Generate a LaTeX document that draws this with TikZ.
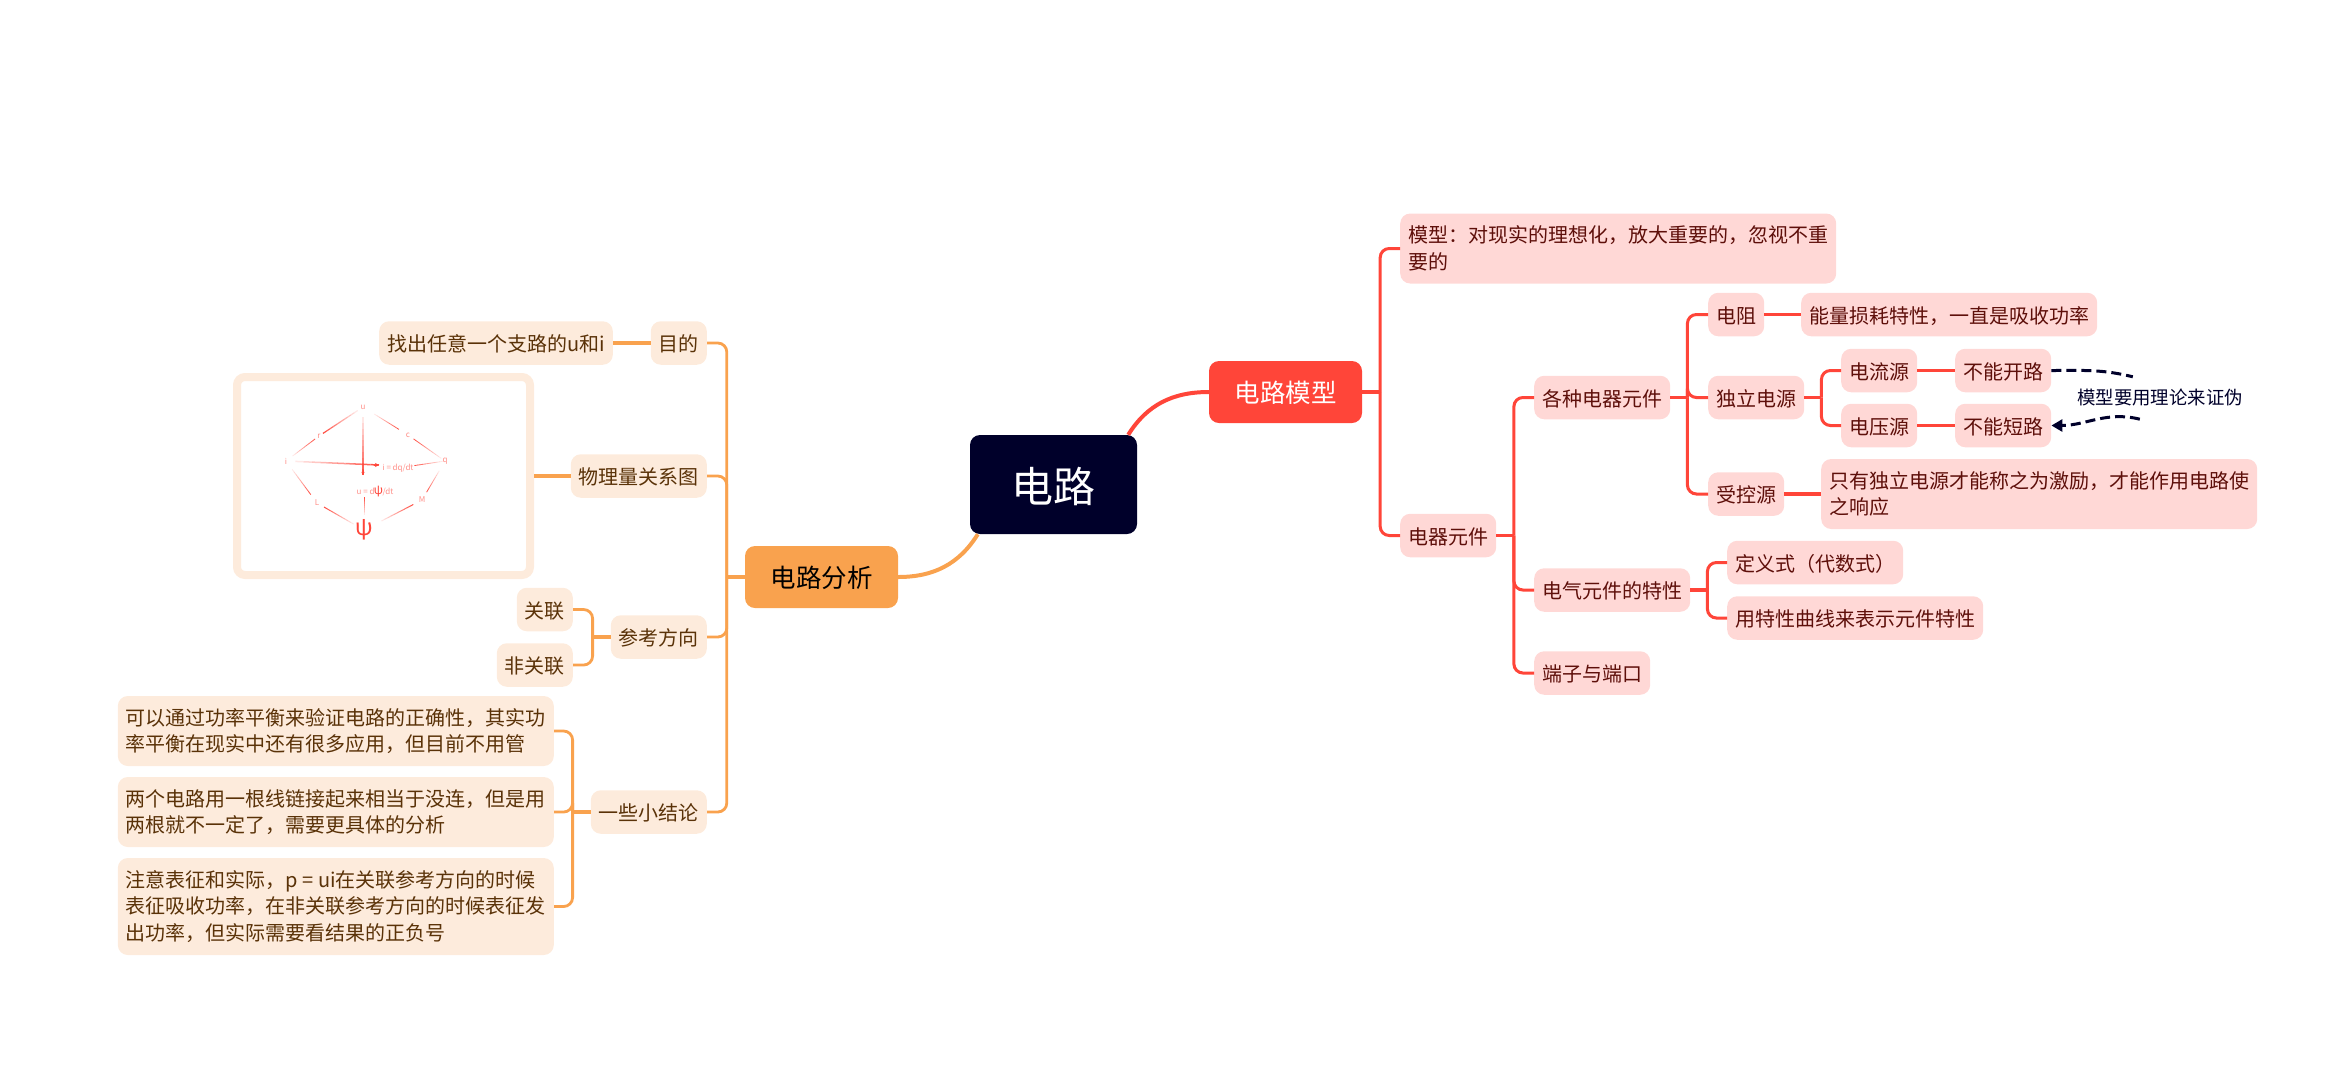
\documentclass[tikz,border=0pt]{standalone}
\usepackage{fontspec}
\usepackage{xcolor}
\setmainfont{Noto Sans CJK SC}
\usetikzlibrary{arrows.meta,calc}
\definecolor{rootink}{HTML}{00002A}
\definecolor{accentred}{HTML}{FF4539}
\definecolor{accentorange}{HTML}{F9A24E}
\definecolor{redbg}{HTML}{FFD8D6}
\definecolor{orangebg}{HTML}{FDEBDC}
\definecolor{redink}{HTML}{5E0F0A}
\definecolor{orangeink}{HTML}{5A3208}
\tikzset{
  rootcard/.style={fill=rootink,text=white,rounded corners=10pt,minimum width=167pt,
                   minimum height=99pt,text height=37pt,text depth=2pt,
                   font=\fontsize{42}{50}\selectfont},
  redmain/.style={fill=accentred,text=white,rounded corners=10pt,minimum width=153pt,
                  minimum height=62pt,text height=23pt,text depth=1.6pt,
                  font=\fontsize{25.5}{30}\selectfont},
  orangemain/.style={fill=accentorange,text=black,rounded corners=10pt,minimum width=153pt,
                     minimum height=62pt,text height=23pt,text depth=1.6pt,
                     font=\fontsize{25.5}{30}\selectfont},
  basecard/.style={rounded corners=10pt,inner xsep=8pt,inner ysep=0pt,
                   font=\fontsize{20}{26.7}\selectfont},
  redcard/.style={basecard,fill=redbg,text=redink,minimum height=43.5pt,
                  text height=18.5pt,text depth=1.5pt},
  orangecard/.style={basecard,fill=orangebg,text=orangeink,minimum height=43.5pt,
                     text height=18.5pt,text depth=1.5pt},
  rednote/.style={basecard,fill=redbg,text=redink,align=left,
                  execute at begin node={\rule{0pt}{22pt}}},
  orangenote/.style={basecard,fill=orangebg,text=orangeink,align=left,
                     execute at begin node={\rule{0pt}{22pt}}},
  redarr/.style={line width=3pt,draw=accentred,rounded corners=9pt},
  redstub/.style={line width=3.4pt,draw=accentred},
  orangearr/.style={line width=2.8pt,draw=accentorange,rounded corners=9pt},
  orangestub/.style={line width=3.2pt,draw=accentorange},
  redcurve/.style={line width=4pt,draw=accentred},
  orangecurve/.style={line width=4pt,draw=accentorange},
  checkarr/.style={line width=3pt,draw=rootink,dash pattern=on 10pt off 5pt},
  picframe/.style={draw=orangebg,fill=white,line width=8pt,rounded corners=8pt,
                   minimum width=293pt,minimum height=198pt},
  piclabel/.style={text=accentred!60,inner sep=0pt,font=\fontsize{8}{9}\selectfont}
}
% one line of the small picture, darker towards its far end
\newcommand{\fadelink}[5]{%
  \foreach \s in {0,...,9}{
    \pgfmathsetmacro\ta{#3+(#4-#3)*\s/10}
    \pgfmathsetmacro\tb{#3+(#4-#3)*(\s+1)/10}
    \pgfmathsetmacro\fo{0.12+0.09*\s}
    \draw[accentred,line width=#5pt,draw opacity=\fo]
      ($(#1)!\ta!(#2)$) -- ($(#1)!\tb!(#2)$);
  }}
\begin{document}
\begin{tikzpicture}[x=1pt,y=-1pt]
  \useasboundingbox (0,0) rectangle (2328,1088);

  \node[rootcard] (root) at (1053.5,484.5) {电路};
  \node[redmain] (circmodel) at (1285.5,392) {电路模型};
  \node[orangemain] (analysis) at (821.5,577) {电路分析};

  \node[rednote,anchor=west,minimum height=70pt] (modelnote) at (1400,248.5)
    {模型：对现实的理想化，放大重要的，忽视不重\\要的};
  \node[redcard,anchor=west] (element) at (1400,535.5) {电器元件};
  \node[redcard,anchor=west] (kinds) at (1534,397.5) {各种电器元件};
  \node[redcard,anchor=west] (traits) at (1534,590) {电气元件的特性};
  \node[redcard,anchor=west] (ports) at (1534,673) {端子与端口};
  \node[redcard,anchor=west] (resistor) at (1708,314.5) {电阻};
  \node[redcard,anchor=west] (indep) at (1708,397.5) {独立电源};
  \node[redcard,anchor=west] (controlled) at (1708,494) {受控源};
  \node[redcard,anchor=west] (lossnote) at (1801,314.5) {能量损耗特性，一直是吸收功率};
  \node[redcard,anchor=west] (currentsrc) at (1841,370.5) {电流源};
  \node[redcard,anchor=west] (voltagesrc) at (1841,425.5) {电压源};
  \node[redcard,anchor=west] (noopen) at (1955,370.5) {不能开路};
  \node[redcard,anchor=west] (noshort) at (1955,425.5) {不能短路};
  \node[rednote,anchor=west,minimum height=70pt] (drivenote) at (1821,494)
    {只有独立电源才能称之为激励，才能作用电路使\\之响应};
  \node[redcard,anchor=west] (defform) at (1727,562.5) {定义式（代数式）};
  \node[redcard,anchor=west] (curveform) at (1727,618) {用特性曲线来表示元件特性};
  \node[inner sep=0pt,minimum width=166pt,minimum height=42pt,text=rootink,
        font=\fontsize{18.4}{24}\selectfont] (modelcheck) at (2160,398) {模型要用理论来证伪};

  \node[orangecard,anchor=east] (purpose) at (707,343) {目的};
  \node[orangecard,anchor=east,minimum width=231pt] (findui) at (613,343) {找出任意一个支路的u和i};
  \node[orangecard,anchor=east] (relation) at (707,476) {物理量关系图};
  \node[orangecard,anchor=east] (refdir) at (707,637) {参考方向};
  \node[orangecard,anchor=east] (assoc) at (573,609.5) {关联};
  \node[orangecard,anchor=east] (nonassoc) at (573,665) {非关联};
  \node[orangecard,anchor=east] (summary) at (707,812) {一些小结论};
  \node[orangenote,anchor=east,minimum height=70pt] (powernote) at (554,731)
    {可以通过功率平衡来验证电路的正确性，其实功\\率平衡在现实中还有很多应用，但目前不用管};
  \node[orangenote,anchor=east,minimum height=70pt] (wirenote) at (554,812)
    {两个电路用一根线链接起来相当于没连，但是用\\两根就不一定了，需要更具体的分析};
  \node[orangenote,anchor=east,minimum height=97pt] (signnote) at (554,906.5)
    {注意表征和实际，p = ui在关联参考方向的时候\\表征吸收功率，在非关联参考方向的时候表征发\\出功率，但实际需要看结果的正负号};

  \draw[redcurve] (circmodel.west) to[out=180,in=58] ([xshift=-9pt]root.north east);
  \draw[orangecurve] (analysis.east) to[out=0,in=-122] ([xshift=8pt]root.south west);

  \coordinate (modeltrunk) at ([xshift=18pt]circmodel.east);
  \coordinate (elementtrunk) at ([xshift=17.5pt]element.east);
  \coordinate (kindstrunk) at ([xshift=17pt]kinds.east);
  \coordinate (indeptrunk) at ([xshift=17pt]indep.east);
  \coordinate (traitstrunk) at ([xshift=17pt]traits.east);
  \coordinate (analysistrunk) at ([xshift=-18pt]analysis.west);
  \coordinate (refdirtrunk) at ([xshift=-18pt]refdir.west);
  \coordinate (summarytrunk) at ([xshift=-18pt]summary.west);

  \foreach \from/\to in {circmodel/modeltrunk,element/elementtrunk,kinds/kindstrunk,
                         indep/indeptrunk,traits/traitstrunk,
                         resistor/lossnote,controlled/drivenote,
                         currentsrc/noopen,voltagesrc/noshort}{
    \draw[redstub] (\from.east) -- (\to);
  }
  \foreach \leaf/\trunk in {modelnote/modeltrunk,element/modeltrunk,
                            kinds/elementtrunk,traits/elementtrunk,ports/elementtrunk,
                            resistor/kindstrunk,indep/kindstrunk,controlled/kindstrunk,
                            currentsrc/indeptrunk,voltagesrc/indeptrunk,
                            defform/traitstrunk,curveform/traitstrunk}{
    \draw[redarr] (\leaf.west) -| (\trunk);
  }

  \foreach \from/\to in {analysis/analysistrunk,refdir/refdirtrunk,summary/summarytrunk}{
    \draw[orangestub] (\from.west) -- (\to);
  }
  \draw[orangestub] (purpose.west) -- (findui.east);
  \foreach \leaf/\trunk in {purpose/analysistrunk,relation/analysistrunk,
                            refdir/analysistrunk,summary/analysistrunk,
                            assoc/refdirtrunk,nonassoc/refdirtrunk,
                            powernote/summarytrunk,wirenote/summarytrunk,
                            signnote/summarytrunk}{
    \draw[orangearr] (\leaf.east) -| (\trunk);
  }

  \draw[checkarr] (noopen.east) to[out=0,in=166] ([xshift=56pt]modelcheck.north west);
  \draw[checkarr,-{Triangle[length=11pt,width=12pt]}]
    ([xshift=63pt]modelcheck.south west) to[out=166,in=0] (noshort.east);

  \node[picframe] (picpanel) at (383.5,476) {};
  \draw[orangestub] (relation.west) -- (picpanel.east);

  \node[piclabel] (picu) at (363,407) {u};
  \node[piclabel] (picr) at (319,436) {r};
  \node[piclabel] (picc) at (408,435) {c};
  \node[piclabel] (pici) at (286,461) {i};
  \node[piclabel] (picq) at (445,461) {q};
  \node[piclabel] (picl) at (317,503) {L};
  \node[piclabel] (picm) at (422,500) {M};
  \node[piclabel] (picdq) at (398,468) {i = dq/dt};
  \node[piclabel] (picud) at (375,492) {u = d\makebox[8pt]{\color{accentred}\fontsize{12}{12}\selectfont ψ}/dt};
  \node[piclabel,text=accentred,font=\fontsize{23}{23}\selectfont] (picpsi) at (364,530) {ψ};
  \coordinate (pictipx) at (379,465);
  \coordinate (pictipy) at (363,475);
  \coordinate (picmid) at (picpsi|-picud);

  \fadelink{picu}{picr}{0.12}{0.91}{1.2}
  \fadelink{pici}{picr}{0.20}{0.88}{0.8}
  \fadelink{picu}{picc}{0.25}{0.80}{0.8}
  \fadelink{picq}{picc}{0.10}{0.85}{0.8}
  \fadelink{picq}{picdq}{0.05}{0.65}{0.8}
  \fadelink{pici}{pictipx}{0.10}{1.00}{1.5}
  \fadelink{picu}{pictipy}{0.15}{1.00}{1.5}
  \fadelink{picpsi}{picmid}{0.39}{0.87}{0.8}
  \fadelink{pici}{picl}{0.20}{0.80}{0.8}
  \fadelink{picpsi}{picl}{0.22}{0.85}{1.0}
  \fadelink{picpsi}{picm}{0.30}{0.85}{1.0}
  \fadelink{picq}{picm}{0.25}{0.80}{0.8}
  \draw[accentred,line width=1pt,-{Stealth[length=4pt,width=4pt]}] ([xshift=-5pt]pictipx) -- (pictipx);
  \draw[accentred,line width=1pt,-{Stealth[length=3pt,width=3pt]}] ([yshift=5pt]pictipy) -- (pictipy);
\end{tikzpicture}
\end{document}
